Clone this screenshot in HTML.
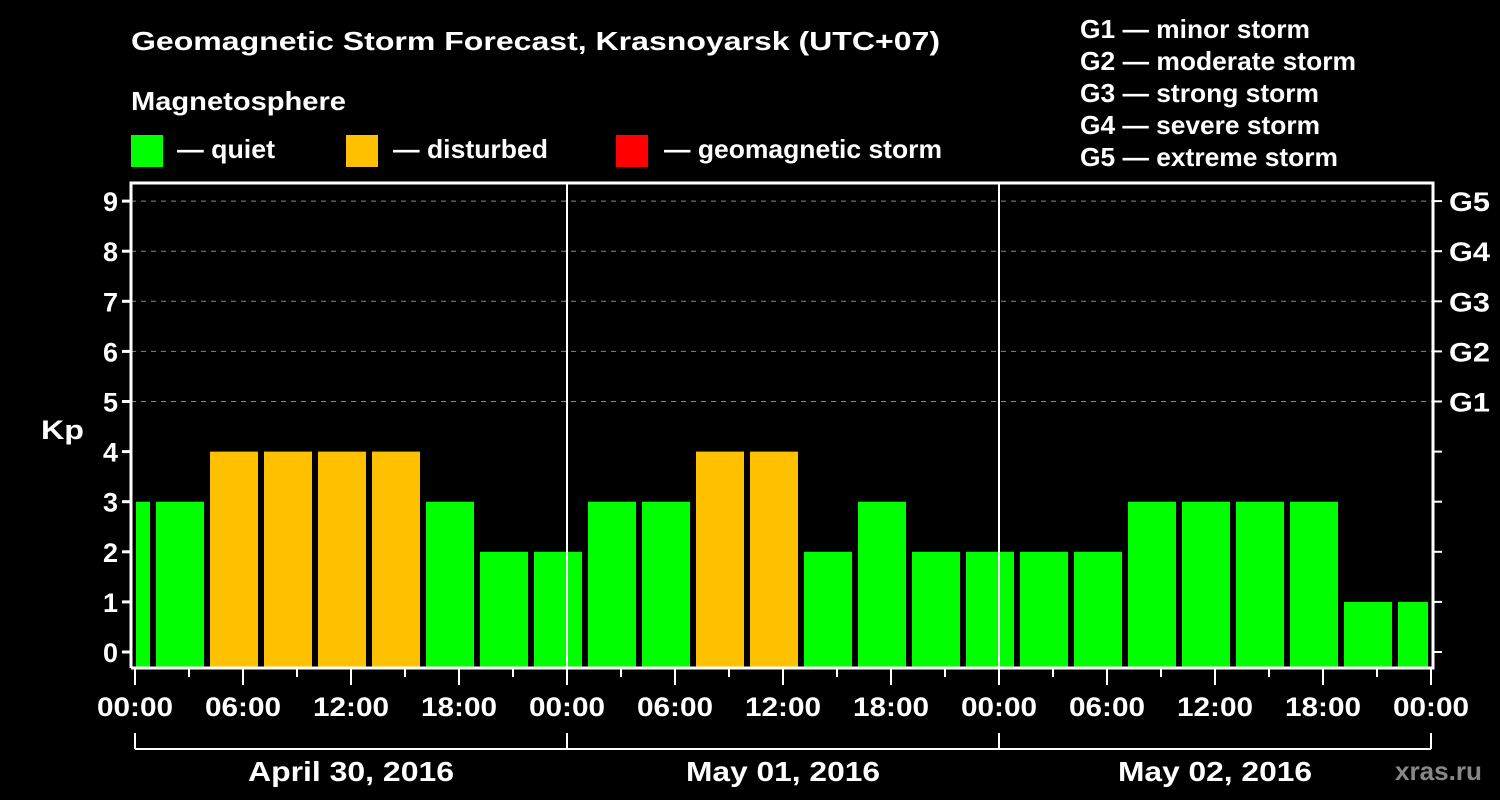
<!DOCTYPE html>
<html><head><meta charset="utf-8"><style>
html,body{margin:0;padding:0;background:#000;}
svg{display:block;font-family:"Liberation Sans",sans-serif;font-weight:bold;}
</style></head><body>
<svg id="chart" width="1500" height="800">
<rect width="1500" height="800" fill="#000"/>
<text x="131" y="50" fill="#fff" font-size="26" textLength="809" lengthAdjust="spacingAndGlyphs">Geomagnetic Storm Forecast, Krasnoyarsk (UTC+07)</text>
<text x="131" y="110" fill="#fff" font-size="26" textLength="215" lengthAdjust="spacingAndGlyphs">Magnetosphere</text>
<g><rect x="131" y="135" width="32" height="32" fill="#00ff00"/><text x="177" y="158" fill="#fff" font-size="26" textLength="98" lengthAdjust="spacingAndGlyphs">— quiet</text></g>
<g><rect x="346" y="135" width="32" height="32" fill="#ffc000"/><text x="393" y="158" fill="#fff" font-size="26" textLength="155" lengthAdjust="spacingAndGlyphs">— disturbed</text></g>
<g><rect x="616" y="135" width="32" height="32" fill="#ff0000"/><text x="664" y="158" fill="#fff" font-size="26" textLength="278" lengthAdjust="spacingAndGlyphs">— geomagnetic storm</text></g>
<g fill="#fff" font-size="26">
<text x="1080" y="38" textLength="230" lengthAdjust="spacingAndGlyphs">G1 — minor storm</text>
<text x="1080" y="70" textLength="276" lengthAdjust="spacingAndGlyphs">G2 — moderate storm</text>
<text x="1080" y="102" textLength="239" lengthAdjust="spacingAndGlyphs">G3 — strong storm</text>
<text x="1080" y="134" textLength="240" lengthAdjust="spacingAndGlyphs">G4 — severe storm</text>
<text x="1080" y="166" textLength="258" lengthAdjust="spacingAndGlyphs">G5 — extreme storm</text>
</g>
<text x="41" y="439" fill="#fff" font-size="27" textLength="43" lengthAdjust="spacingAndGlyphs">Kp</text>
<text x="1395" y="780" fill="#888" font-size="26" textLength="87" lengthAdjust="spacingAndGlyphs">xras.ru</text>
<g id="plot"></g>
</svg>
<script>
const kpValues = [3,3,4,4,4,4,3,2,2,3,3,4,4,2,3,2,2,2,2,3,3,3,3,1,1];
const firstStartHour = -2;
const yTicks = [0,1,2,3,4,5,6,7,8,9];
const gLabels = ["G1","G2","G3","G4","G5"];
const xTickLabels = ["00:00","06:00","12:00","18:00","00:00","06:00","12:00","18:00","00:00","06:00","12:00","18:00","00:00"];
const dayLabels = ["April 30, 2016","May 01, 2016","May 02, 2016"];
const dayLabelWidths = [206,194,194];

const NS="http://www.w3.org/2000/svg";
const plot=document.getElementById('plot');
const L=131,R=1433,T=183,B=668;
const x=h=>135+h*18;
const y=v=>652-v*50.1;
function mk(tag,attrs,parent){const e=document.createElementNS(NS,tag);for(const k in attrs)e.setAttribute(k,attrs[k]);(parent||plot).appendChild(e);return e;}

yTicks.filter(v=>v>=5).forEach(v=>{
  const g=mk('line',{x1:L,x2:R,y1:y(v),y2:y(v),stroke:'#888','stroke-width':1,'stroke-dasharray':'5,5'});
  
  
});
kpValues.forEach((v,i)=>{
  const h0=firstStartHour+i*3;
  let x0=x(h0)+3, x1=x(h0+3)-3;
  x0=Math.max(x0,x(0)+1); x1=Math.min(x1,x(72)-3);
  if(x1<=x0)return;
  const col=v>=5?'#ff0000':(v>=4?'#ffc000':'#00ff00');
  const r=mk('rect',{x:x0,y:y(v),width:x1-x0,height:B-y(v),fill:col});
  
  
});
[24,48].forEach(h=>{
  const l=mk('line',{x1:x(h),x2:x(h),y1:T,y2:B,stroke:'#fff','stroke-width':2});
  
  
});
const fr=mk('path',{d:`M${L},${B} V${T} H${R} V${B} H${L}`,fill:'none',stroke:'#fff','stroke-width':3});


yTicks.forEach(v=>{
  mk('line',{x1:L-9,x2:L,y1:y(v),y2:y(v),stroke:'#fff','stroke-width':3});
  mk('line',{x1:R,x2:R+9,y1:y(v),y2:y(v),stroke:'#fff','stroke-width':2});
  const t=mk('text',{x:118,y:y(v)+10,fill:'#fff','font-size':27,'text-anchor':'end'});
  t.textContent=v;
  
  
});
gLabels.forEach((g,i)=>{
  const t=mk('text',{x:1449,y:y(5+i)+10,fill:'#fff','font-size':27,textLength:41,lengthAdjust:'spacingAndGlyphs'});
  t.textContent=g;
  
  
});
for(let h=0;h<=72;h+=3){
  const major=h%6===0;
  mk('line',{x1:x(h),x2:x(h),y1:B,y2:B+(major?17:9),stroke:'#fff','stroke-width':2});
}
xTickLabels.forEach((s,i)=>{
  const t=mk('text',{x:x(i*6)-38,y:716,fill:'#fff','font-size':27,textLength:76,lengthAdjust:'spacingAndGlyphs'});
  t.textContent=s;
  
  
});
mk('line',{x1:x(0),x2:x(72),y1:749,y2:749,stroke:'#fff','stroke-width':2});
[0,24,48,72].forEach(h=>mk('line',{x1:x(h),x2:x(h),y1:733,y2:749,stroke:'#fff','stroke-width':2}));
dayLabels.forEach((s,i)=>{
  const w=dayLabelWidths[i];
  const t=mk('text',{x:x(i*24+12)-w/2,y:781,fill:'#fff','font-size':28,textLength:w,lengthAdjust:'spacingAndGlyphs'});
  t.textContent=s;
  
  
});
</script>
</body></html>
